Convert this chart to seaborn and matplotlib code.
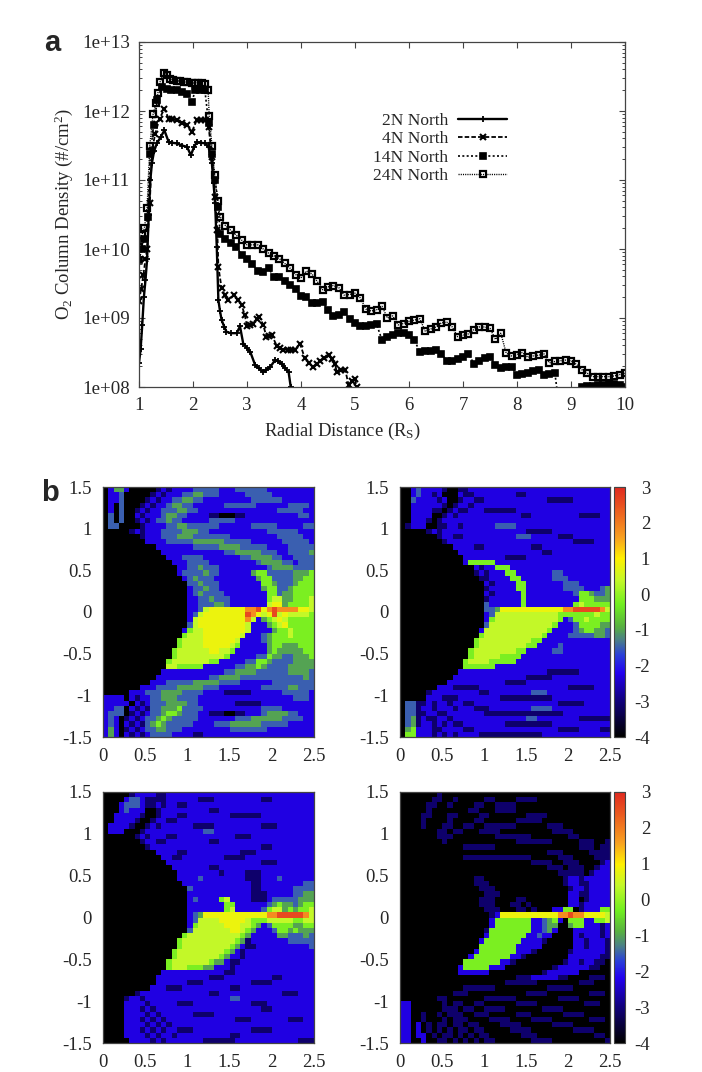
import numpy as np
import matplotlib
matplotlib.use("Agg")
import matplotlib.pyplot as plt
from matplotlib.colors import LinearSegmentedColormap
import seaborn as sns

sns.set_style("white")
plt.rcParams['font.family'] = ['Liberation Serif', 'DejaVu Serif']
plt.rcParams['mathtext.fontset'] = 'custom'
plt.rcParams['mathtext.rm'] = 'Liberation Serif'
plt.rcParams['mathtext.default'] = 'regular'

W, H = 702, 1072

# ---------- panel a data: log10 of column density ----------
TAIL_X = [2.5,2.6,2.7,2.8,2.9,3.0,3.1,3.2,3.3,3.4,3.5,3.6,3.7,3.8,3.9,4.0,4.1,4.2,4.3,4.4,
          4.5,4.6,4.7,4.8,4.9,5.0,5.1,5.2,5.3,5.4,5.5,5.6,5.7,5.8,5.9,6.0,6.1,6.2,6.3,6.4,
          6.5,6.6,6.7,6.8,6.9,7.0,7.1,7.2,7.3,7.4,7.5,7.6,7.7,7.8,7.9,8.0,8.1,8.2,8.3,8.4,
          8.5,8.6,8.7,8.8,8.9,9.0,9.1,9.2,9.3,9.4,9.5,9.6,9.7,9.8,9.9,10.0]

x_2n = [1.0,1.03,1.06,1.09,1.12,1.15,1.18,1.21,1.24,1.28,1.33,1.4,1.47,1.55,1.62,1.7,1.8,1.89,1.96,2.02,2.07,2.15,2.23,2.29,2.35,2.38,2.41,2.44,2.47,2.5,2.53,2.58,2.62,2.7,2.81,2.87,2.93,3.0,3.06,3.15,3.22,3.3,3.36,3.43,3.52,3.58,3.64,3.7,3.77,3.81,3.85]
y_2n = [8.35,8.55,8.9,9.3,9.55,9.85,10.5,11.0,11.25,11.42,11.53,11.62,11.72,11.55,11.54,11.53,11.5,11.48,11.36,11.48,11.55,11.54,11.53,11.48,11.24,10.95,10.66,10.03,9.26,9.1,8.97,8.87,8.8,8.78,8.78,8.88,8.63,8.56,8.51,8.32,8.27,8.22,8.25,8.29,8.39,8.37,8.34,8.28,8.22,8.0,7.7]

x_4n = [1.0,1.04,1.08,1.12,1.15,1.2,1.24,1.3,1.38,1.47,1.55,1.62,1.7,1.8,1.89,1.98,2.07,2.15,2.23,2.29,2.35,2.41,2.45,2.47,2.53,2.59,2.65,2.75,2.83,2.9,2.96,3.0,3.06,3.12,3.18,3.23,3.3,3.36,3.41,3.46,3.55,3.61,3.67,3.75,3.82,3.89,3.98,4.07,4.15,4.23,4.29,4.35,4.43,4.51,4.58,4.63,4.66,4.74,4.82,4.88,4.94,5.0,5.03,5.08]
y_4n = [9.25,9.42,9.62,9.85,10.0,10.66,11.43,11.67,11.89,12.03,11.89,11.88,11.87,11.83,11.79,11.7,11.87,11.87,11.87,11.77,11.33,10.75,10.27,9.74,9.43,9.33,9.26,9.33,9.26,9.19,9.04,8.88,8.9,8.92,8.98,9.02,8.9,8.73,8.74,8.75,8.6,8.56,8.54,8.54,8.54,8.54,8.63,8.42,8.35,8.29,8.33,8.37,8.42,8.46,8.4,8.34,8.22,8.24,8.25,8.03,8.08,8.12,8.0,7.7]

x_14n = [1.0,1.05,1.1,1.16,1.21,1.27,1.34,1.42,1.52,1.6,1.7,1.8,1.89,1.98,2.04,2.13,2.22,2.29,2.35,2.41,2.47] + TAIL_X
y_14n = [9.84,10.0,10.15,10.46,11.38,11.79,12.16,12.35,12.32,12.31,12.3,12.27,12.25,12.13,12.3,12.3,12.3,11.82,11.38,11.0,10.61,
         10.22,10.14,10.08,10.03,9.92,9.85,9.78,9.68,9.66,9.72,9.6,9.59,9.54,9.48,9.42,9.32,9.31,9.22,9.22,9.23,
         9.12,9.03,9.05,9.08,8.98,8.93,8.88,8.88,8.9,8.91,8.68,8.72,8.76,8.78,8.78,8.75,8.68,8.51,8.52,8.52,
         8.54,8.48,8.38,8.38,8.4,8.44,8.48,8.34,8.38,8.42,8.43,8.32,8.27,8.29,8.29,8.17,8.19,8.21,8.23,8.24,
         8.18,8.19,8.21,7.6,7.6,7.6,7.6,8.0,8.01,8.02,8.03,8.03,8.04,8.04,8.03,8.0]

x_24n = [1.0,1.05,1.1,1.15,1.2,1.26,1.32,1.35,1.39,1.46,1.52,1.57,1.63,1.7,1.76,1.83,1.89,1.98,2.04,2.1,2.16,2.22,2.28,2.3,2.35,2.4,2.46] + TAIL_X
y_24n = [10.03,10.2,10.3,10.6,11.5,11.95,12.12,12.26,12.42,12.55,12.52,12.47,12.45,12.44,12.43,12.42,12.42,12.4,12.41,12.41,12.4,12.39,12.3,11.93,11.5,11.07,10.7,
         10.47,10.34,10.27,10.2,10.13,10.06,10.06,10.06,10.0,9.94,9.9,9.86,9.79,9.72,9.63,9.58,9.68,9.64,9.53,9.41,
         9.45,9.47,9.44,9.33,9.34,9.36,9.29,9.13,9.1,9.12,9.17,9.0,9.03,8.9,8.92,8.95,8.97,8.99,8.81,8.84,
         8.87,8.93,8.94,8.87,8.73,8.75,8.77,8.83,8.87,8.87,8.85,8.69,8.78,8.49,8.45,8.47,8.5,8.43,8.45,8.46,
         8.48,8.35,8.37,8.38,8.39,8.38,8.33,8.25,8.2,8.15,8.15,8.15,8.15,8.16,8.18,8.2]

series_labels = ["2N North", "4N North", "14N North", "24N North"]
y_ticks = [1e8, 1e9, 1e10, 1e11, 1e12, 1e13]
y_tick_labels = ["1e+08", "1e+09", "1e+10", "1e+11", "1e+12", "1e+13"]
x_ticks = [1, 2, 3, 4, 5, 6, 7, 8, 9, 10]

# ---------- panel b data: one digit per cell, index into LEVELS ----------
LEVELS = [-4.0, -3.1, -2.3, -1.5, -1.0, -0.2, 0.4, 0.8, 1.8, 2.6]

grid_tl = """
0244200000 1212222333 3322233333 3222222222
0223000001 2122233443 3322222333 3322222222
0223000012 1223344332 2222222233 3333222222
0203000121 2234433222 2223333332 2222233332
0203001212 2333443322 2222222222 2223333322
0303002122 2344332222 1100011222 2222222332
0303001212 3343322222 3333322222 2222222222
0330000122 2233443333 3322222233 3332222233
0000012122 2333344433 2222222222 2333333222
0000000122 2333444333 3333222222 2223333322
0000000022 2233333444 4443333322 2222333332
0000000000 2222222333 3344443333 3222233333
0000000000 0222222222 2223344444 3332233334
0000000000 0022233332 2222223344 4433223333
0000000000 0002223333 2222222223 4444332333
0000000000 0000223343 3322222222 2344443333
0000000000 0000233334 3322222245 5333334445
0000000000 0000023433 3222222224 5533334455
0000000000 0000003343 3322222222 5543334555
0000000000 0000002334 3322222222 4553345555
0000000000 0000002343 3332222222 2553445555
0000000000 0000002233 4333222222 2566445556
0000000000 0000002233 3443222222 2677455556
0000000000 0000002236 7777777889 7898888776
0000000000 0000002367 7777777987 6796766665
0000000000 0000002677 7777777862 4567655555
0000000000 0000003677 7777777622 2456755555
0000000000 0000025667 7777777622 2245565555
0000000000 0000056667 7777776222 3455565555
0000000000 0000566667 7777762222 3455555555
0000000000 0000566667 7777652222 2455444555
0000000000 0005666666 7766522222 2454444455
0000000000 0005666666 6665222223 3544334445
0000000000 0056666666 5522222335 5433334444
0000000000 0066555552 2222233445 4333344444
0000000000 0222222222 2223344443 3333344443
0000000000 2222222222 3344443333 3333333343
0000000002 2233333444 4433332222 2233333333
0000000222 3333444443 3322222222 3333344333
0000022233 3444433332 2221111122 2222333332
2222021223 3444333322 2222222222 2222223332
2222202123 3344443322 2222211111 2222222222
2233021213 3444533332 2222222222 3333222222
2333012123 3455433322 1110011222 3444433222
2320121233 4543333322 2222233344 4444333322
2320212134 5433333222 2333444444 3333322222
2420121233 4433322222 2222333333 3222222222
2420212123 3332222112 2222222222 2222222222
"""

grid_tr = """
0023222210 0112222222 2222222222 2222222222
0023221200 0211222222 2211222222 2222222222
0032222120 0122112222 2222222211 1112222222
0022222210 1221222222 2222222222 2222222222
0022221101 2112221111 1122222222 2222222222
0022220012 1222222222 2221122222 2222111122
0022210122 2222222222 2222222222 2222222222
0122200112 2122222233 3322222222 2222222222
0000012122 2222222222 2222111112 2222222222
0000000122 1122222222 2233322222 1112222222
0000000012 2222222222 2222222222 2221111222
0000000000 2222112222 2222211222 2222222222
0000000000 0222222222 2222222112 2222222222
0000000000 0022222222 1111222222 2222222222
0000000000 0025555522 2222222222 2222222222
0000000000 0000212255 5222222222 2222222222
0000000000 0000121222 5522222223 3222222222
0000000000 0000011222 2552222223 3322222222
0000000000 0000002122 2255222222 2333222222
0000000000 0000001222 2255222222 2333322234
0000000000 0000002122 2225222222 2223554334
0000000000 0000001222 2225222222 2222555444
0000000000 0000003222 2225222222 2225655555
0000000000 0000003347 7777777777 7889999986
0000000000 0000002366 6666666666 5555555655
0000000000 0000002566 6666666666 5235565555
0000000000 0000003666 6666666665 2223555544
0000000000 0000026666 6666666652 2223455443
0000000000 0000056666 6666666522 2233333443
0000000000 0000566666 6666655222 2222222222
0000000000 0000566666 6666552222 3222222222
0000000000 0005666666 6655222223 3222222222
0000000000 0005666665 5552222222 2222222222
0000000000 0056666555 5522222222 2222222222
0000000000 0055555522 2222222222 2222222222
0000000000 0222222222 2222222211 1111222222
0000000000 2222222222 2222111112 2222222222
0000000002 2222222222 1111222222 2222222222
0000000222 1111122222 2222222222 2211111222
0000012222 2222211222 2222233322 2222222222
0000022211 1222222221 1111111112 2222222222
0331121221 2211222222 2222222222 1111122222
0331221222 1222111222 2222233332 2222222222
0331122112 2222221111 1111111111 1222222222
0341211221 2222222222 2222332222 2222111111
0341221212 1122222222 1111111112 2222222222
0452221122 2211222222 2222222222 1111222211
0552221212 1222211111 1111111222 2222222222
"""

grid_bl = """
0000012222 1122222222 2222222222 2222222222
0000233211 1122222211 1222222222 1122222222
0002333211 2122112222 2222222222 2222222222
0002322200 1222222222 1122222222 2222222222
0022222100 1222112222 2222111111 2222222222
0022221001 2211222222 2222222222 2222222222
0222210012 1222222111 1222222222 1112222222
0222000122 2222222223 3222222222 2222222222
0000001212 2211222222 2222211122 2222222222
0000000122 1122222222 1122222222 2222222222
0000000012 2222222222 2222222222 1122222222
0000000000 2222112222 2222221112 2222222222
0000000000 0221122222 2221111222 2222222222
0000000000 0022222222 2222222222 1112222222
0000000000 0002222222 1122222222 2222222222
0000000000 0000222222 2212222111 2222222222
0000000000 0000222232 2222222111 2223222222
0000000000 0000022222 2222222211 2222222233
0000000000 0000003222 2222222211 2222223333
0000000000 0000002222 2222222211 1222223344
0000000000 0000002322 2256222211 1233333444
0000000000 0000002222 2225522222 2345443455
0000000000 0000002222 2225622222 3566454556
0000000000 0000002347 7777777777 7889999986
0000000000 0000002366 6677777655 5666665566
0000000000 0000002566 6667776654 2355554455
0000000000 0000003666 6666776542 2235545444
0000000000 0000056666 6666665422 2224433343
0000000000 0000566666 6666654122 2222233333
0000000000 0000566666 6666542112 2222222223
0000000000 0005666666 6665421222 2222222222
0000000000 0005666666 6654221222 2222222222
0000000000 0056666666 5442112222 2222222222
0000000000 0056665554 4222122222 2222222222
0000000000 0222222222 2221122222 2222222222
0000000000 2222222222 1112222222 2211222222
0000000000 2222221112 2222222211 1122222222
0000000002 2211122222 2222112222 2222222222
0000001222 2222222222 1122222222 2222111222
0000122122 2222222222 2222332222 2222222222
0000222212 2222111222 2222222211 1222222222
0000222121 2222222222 2222222222 1122222222
0000222212 1222222111 1222222222 2222222222
0000222121 2122222222 2222211122 2222211122
0000222212 1212222222 2222222222 2222222222
0000222121 2122111222 2222222211 1122222222
0000222212 1221222222 2222112222 2222222222
0000022221 2122222221 1111122222 2222222111
"""

grid_br = """
0000000100 0000000000 0000000000 0000000000
0000001100 1000001100 0011110000 0000000000
0000011001 0000110011 1100000000 0000000000
0000010000 0001100011 1100000000 0000000000
0000110001 1000011000 0000111100 0000000000
0000100001 0000110000 0011111000 0000000000
0000100011 0011001111 1100000011 1000000000
0000000110 1100011110 0000000001 1110000000
0000000111 0000000011 1111100000 0011000000
0000000010 0000000000 0011111110 0000111001
0000000000 0011111100 0000000000 0000111011
0000000000 0000000000 0000000011 1000001111
0000000000 0011111111 1111100000 1110000111
0000000000 0000000000 0000011110 0111000012
0000000000 0000000000 0000000011 1011100122
0000000000 0000000000 0000000000 1111101222
0000000000 0000110000 0000000000 0122122222
0000000000 0000111000 0000000000 0122112222
0000000000 0000011100 0000000000 0012212222
0000000000 0000001110 0000000000 0022112222
0000000000 0000011100 0011000000 0022012222
0000000000 0000011100 0110100000 0022122222
0000000000 0000001110 0011010002 2550122255
0000000000 0000000127 7777777777 8898877776
0000000000 0000000255 5555522345 2055522556
0000000000 0000000255 5555522344 0045522212
0000000000 0000001555 5555522342 0002222212
0000000000 0000002555 5555223220 0002122212
0000000000 0000025555 5552222100 0002212221
0000000000 0000055555 5522222000 0002212221
0000000000 0000255555 5522210000 0012222221
0000000000 0002555555 5221000000 0022222211
0000000000 0055555552 2100000000 0122122110
0000000000 0255555222 0000000001 2222221100
0000000000 0222222000 0000000122 2222000000
0000000000 0000000000 0011122222 1100001110
0000000000 0000000000 1111110000 0000111000
0000000000 0011111100 0000000011 1110000000
0000000000 1110000000 0000111100 0000001110
0000000110 0000001111 1100000000 1111000000
2200000010 1100110000 0011110000 0000011100
2200000011 1011001111 0000000111 1000000000
2200100101 1100111000 0011100000 0111100000
2200100010 1110000111 1000011110 0000001110
2202010110 1101100001 1110000001 1110000000
2202010101 0110110000 0111100000 0001111000
2202201011 0101011000 0001110000 0000000110
2200200110 1010101100 0000011110 0000000001
"""

b_x_ticks = [0, 0.5, 1, 1.5, 2, 2.5]
b_x_labels = ["0", "0.5", "1", "1.5", "2", "2.5"]
b_y_ticks = [1.5, 1, 0.5, 0, -0.5, -1, -1.5]
b_y_labels = ["1.5", "1", "0.5", "0", "-0.5", "-1", "-1.5"]
cb_ticks = [-4, -3, -2, -1, 0, 1, 2, 3]

cmap = LinearSegmentedColormap.from_list("gp", [
    (0.0, "#000000"),
    (1.0/7, "#10007a"),
    (1.8/7, "#2200f0"),
    (2.3/7, "#2a40d8"),
    (2.7/7, "#4a7f88"),
    (3.1/7, "#58b040"),
    (3.7/7, "#70ee20"),
    (4.4/7, "#c4f828"),
    (5.0/7, "#fff000"),
    (5.6/7, "#f8a020"),
    (6.2/7, "#ee6a20"),
    (1.0, "#e02a20"),
])
GRAY = "#444444"


def axes_px(x0, y0, x1, y1):
    return fig.add_axes([x0 / W, 1 - y1 / H, (x1 - x0) / W, (y1 - y0) / H])


def parse(text):
    rows = [r.replace(" ", "") for r in text.strip().splitlines()]
    return np.array([[LEVELS[int(c)] for c in r] for r in rows])


fig = plt.figure(figsize=(W / 100, H / 100), dpi=100, facecolor="white")

# ---------- panel a ----------
ax = axes_px(139, 42, 625, 387)
styles = [
    (x_2n, y_2n, "+", "-", 4.5, "black", 1.7, 1.3),
    (x_4n, y_4n, "x", (0, (2.5, 1.2)), 5.0, "black", 1.3, 1.5),
    (x_14n, y_14n, "s", (0, (1.2, 1.4)), 4.6, "black", 1.2, 1.2),
    (x_24n, y_24n, "s", (0, (0.8, 0.8)), 4.6, "none", 1.0, 1.6),
]
for (xs, ys, mk, ls, ms, mfc, lw, mew), lab in zip(styles, series_labels):
    sns.lineplot(x=xs, y=10.0 ** np.array(ys), ax=ax, color="black", marker=mk,
                 linestyle=ls, markersize=ms, markerfacecolor=mfc,
                 markeredgecolor="black", markeredgewidth=mew, linewidth=lw,
                 label=lab, sort=False, estimator=None)
ax.set_yscale("log")
ax.set_xlim(1, 10)
ax.set_ylim(1e8, 1e13)
ax.set_xticks(x_ticks)
ax.set_xticklabels([str(t) for t in x_ticks])
ax.set_yticks(y_ticks)
ax.set_yticklabels(y_tick_labels)
ax.minorticks_on()
ax.xaxis.set_tick_params(which="minor", bottom=False, top=False)
ax.tick_params(which="major", direction="in", top=True, right=True, left=True, bottom=True,
               length=4, width=0.8, color=GRAY, labelsize=13.6)
ax.tick_params(axis="y", which="major", pad=6.5)
ax.tick_params(axis="x", which="major", pad=7)
ax.tick_params(which="minor", axis="y", direction="in", left=True, right=True, length=2,
               width=0.7, color=GRAY)
for s in ax.spines.values():
    s.set_color(GRAY)
    s.set_linewidth(0.9)
ax.set_xlabel(r"Radial Distance (R$_S$)", fontsize=13.4)
ax.xaxis.set_label_coords(0.418, -0.098)
ax.set_ylabel(r"O$_2$ Column Density (#/cm$^2$)", fontsize=13.5)
ax.yaxis.set_label_coords(-0.132, 0.5)
ax.legend(loc="upper right", bbox_to_anchor=(507 / W, 1 - 113 / H), bbox_transform=fig.transFigure,
          frameon=False, markerfirst=False, numpoints=1, fontsize=12.5, borderpad=0,
          borderaxespad=0, labelspacing=0.12, handlelength=2.8, handletextpad=0.57)

# ---------- panel b ----------
panels = [
    (grid_tl, (103, 487, 314, 737), None),
    (grid_tr, (400, 487, 610, 737), (614, 487, 625, 737)),
    (grid_bl, (103, 792, 314, 1043), None),
    (grid_br, (400, 792, 610, 1043), (614, 792, 625, 1043)),
]
for text, box, cbox in panels:
    arr = parse(text)
    nrow, ncol = arr.shape
    a = axes_px(*box)
    cax = axes_px(*cbox) if cbox else None
    sns.heatmap(arr, ax=a, cmap=cmap, vmin=-4, vmax=3, cbar=cbox is not None, cbar_ax=cax,
                xticklabels=False, yticklabels=False)
    a.set_xticks([v / 2.5 * ncol for v in b_x_ticks])
    a.set_xticklabels(b_x_labels, rotation=0)
    a.set_yticks([(1.5 - v) / 3 * nrow for v in b_y_ticks])
    a.set_yticklabels(b_y_labels, rotation=0)
    a.tick_params(axis="both", length=0, labelsize=13.5, pad=8)
    for s in a.spines.values():
        s.set_visible(True)
        s.set_color(GRAY)
        s.set_linewidth(0.9)
    if cax is not None:
        cb = a.collections[0].colorbar
        cb.set_ticks(cb_ticks)
        cb.set_ticklabels([str(t) for t in cb_ticks], ha="right")
        cax.tick_params(axis="y", direction="in", length=8, width=0.8, color="black",
                        labelsize=13.5, pad=18, right=True)
        cb.outline.set_edgecolor(GRAY)
        cb.outline.set_linewidth(0.8)

fig.text(44 / W, 1 - 51 / H, "a", fontsize=21, fontweight="bold", family="Liberation Sans")
fig.text(41 / W, 1 - 501 / H, "b", fontsize=21, fontweight="bold", family="Liberation Sans")

fig.savefig("out.png", dpi=100, facecolor="white")
